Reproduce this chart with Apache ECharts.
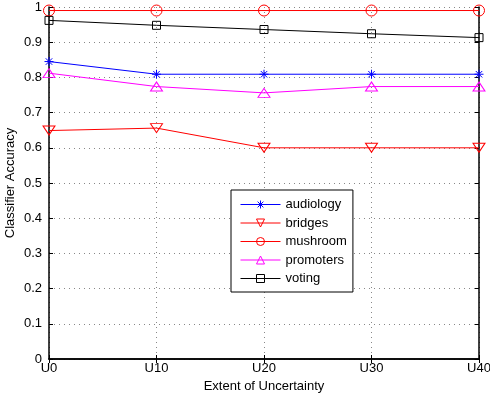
<!DOCTYPE html>
<html><head><meta charset="utf-8">
<script src="https://cdn.jsdelivr.net/npm/echarts@6/dist/echarts.min.js"></script>
<style>html,body{margin:0;padding:0;background:#fff}#c{width:490px;height:399px}</style>
</head><body><div id="c"></div>
<script>
const categories = ['U0','U10','U20','U30','U40'];
const audiology = [0.845, 0.809, 0.809, 0.809, 0.809];
const bridges = [0.649, 0.656, 0.600, 0.600, 0.600];
const mushroom = [0.990, 0.990, 0.990, 0.990, 0.990];
const promoters = [0.812, 0.774, 0.756, 0.774, 0.774];
const voting = [0.962, 0.948, 0.936, 0.924, 0.913];
const yTicks = [0,0.1,0.2,0.3,0.4,0.5,0.6,0.7,0.8,0.9,1];

const FONT = 'Liberation Sans';
const FS = 13;
const star = 'path://M0,-1L0,1M-1,0L1,0M-0.72,-0.72L0.72,0.72M-0.72,0.72L0.72,-0.72';
const triDown = 'path://M-1,-0.8L1,-0.8L0,0.8Z';
const triUp = 'path://M0,-0.8L1,0.8L-1,0.8Z';
const seriesDefs = [
  {name: 'audiology', data: audiology, color: '#0000ff', symbol: star, size: 9},
  {name: 'bridges', data: bridges, color: '#ff0000', symbol: triDown, size: [12, 9]},
  {name: 'mushroom', data: mushroom, color: '#ff0000', symbol: 'circle', size: 11},
  {name: 'promoters', data: promoters, color: '#ff00ff', symbol: triUp, size: [12, 9]},
  {name: 'voting', data: voting, color: '#000000', symbol: 'rect', size: 8}
];

function mk(d) {
  return {
    name: d.name, type: 'line', data: d.data, symbol: d.symbol, symbolSize: d.size,
    showAllSymbol: true,
    lineStyle: {color: d.color, width: 1},
    itemStyle: {color: 'rgba(0,0,0,0)', borderColor: d.color, borderWidth: 1},
    emphasis: {disabled: true},
    animation: false
  };
}

const chart = echarts.init(document.getElementById('c'));
chart.setOption({
  animation: false,
  backgroundColor: '#fff',
  textStyle: {fontFamily: FONT},
  grid: {left: 49, right: 11, top: 7, bottom: 40, show: false, outerBoundsMode: 'none', containLabel: false},
  legend: {
    orient: 'vertical', left: 231, top: 190,
    width: 120,
    padding: [8, 6, 7, 9],
    itemWidth: 40, itemHeight: 10, itemGap: 5.5,
    backgroundColor: '#fff', borderColor: '#000', borderWidth: 1,
    textStyle: {fontFamily: FONT, fontSize: FS, color: '#000', padding: [0, 8, 0, 0]},
    itemStyle: {color: 'rgba(0,0,0,0)', borderWidth: 1},
    data: seriesDefs.map(d => ({
      name: d.name,
      itemStyle: {color: 'rgba(0,0,0,0)', borderColor: d.color, borderWidth: 1},
      lineStyle: {color: d.color, width: 1}
    }))
  },
  xAxis: [{
    type: 'category', data: categories, boundaryGap: false,
    name: 'Extent of Uncertainty', nameLocation: 'middle', nameGap: 21, nameMoveOverlap: false,
    nameTextStyle: {fontFamily: FONT, fontSize: FS, color: '#000'},
    axisLine: {lineStyle: {color: '#000', width: 1.5}},
    axisTick: {inside: true, length: 4, lineStyle: {color: '#000'}},
    axisLabel: {fontFamily: FONT, fontSize: FS, color: '#000', margin: 3},
    splitLine: {show: true, lineStyle: {color: '#888', type: [1, 4], width: 1}}
  }, {
    type: 'category', data: categories, boundaryGap: false, position: 'top',
    axisLine: {lineStyle: {color: '#000', width: 1.5}},
    axisTick: {inside: true, length: 4, lineStyle: {color: '#000'}},
    axisLabel: {show: false}, splitLine: {show: false}
  }],
  yAxis: [{
    type: 'value', min: 0, max: 1, interval: 0.1,
    name: 'Classifier Accuracy', nameLocation: 'middle', nameGap: 32, nameMoveOverlap: false,
    nameTextStyle: {fontFamily: FONT, fontSize: FS, color: '#000'},
    axisLine: {show: true, lineStyle: {color: '#000', width: 1.5}},
    axisTick: {show: true, inside: true, length: 4, lineStyle: {color: '#000'}},
    axisLabel: {fontFamily: FONT, fontSize: FS, color: '#000', margin: 7,
      formatter: v => { const t = yTicks.find(x => Math.abs(x - v) < 1e-9); return String(t !== undefined ? t : v); }},
    splitLine: {show: true, lineStyle: {color: '#888', type: [1, 4], width: 1}}
  }, {
    type: 'value', min: 0, max: 1, interval: 0.1, position: 'right',
    axisLine: {show: true, lineStyle: {color: '#000', width: 1.5}},
    axisTick: {show: true, inside: true, length: 4, lineStyle: {color: '#000'}},
    axisLabel: {show: false}, splitLine: {show: false}
  }],
  series: seriesDefs.map(mk)
});
</script></body></html>
